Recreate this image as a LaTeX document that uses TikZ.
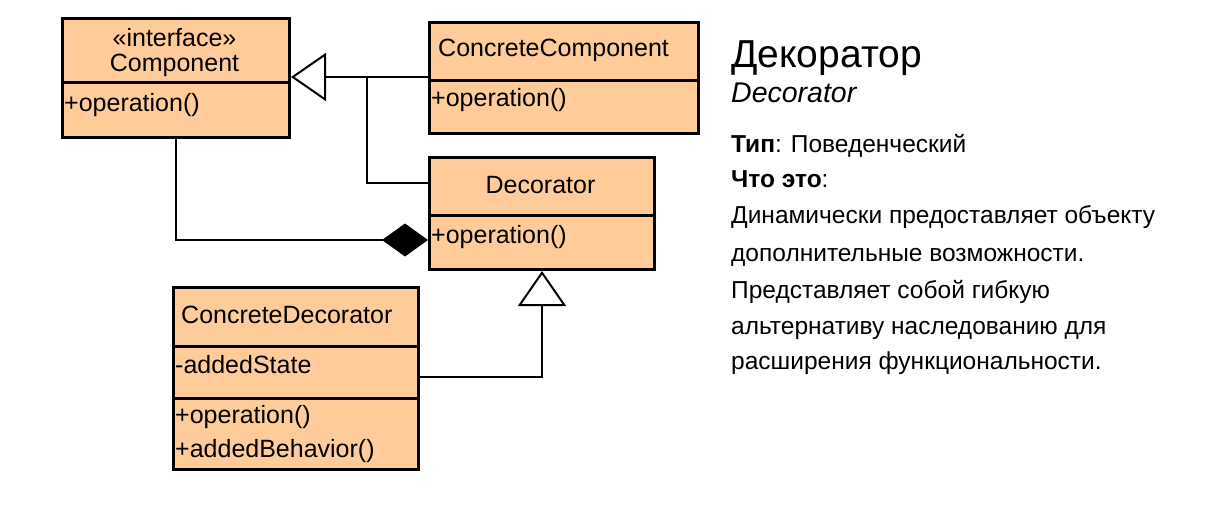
\documentclass[tikz,border=0pt]{standalone}
\usepackage{fontspec}
\setmainfont{Liberation Sans}
\usetikzlibrary{arrows.meta,calc}
\definecolor{peach}{RGB}{255,204,153}
\begin{document}
\begin{tikzpicture}[x=1pt,y=-1pt,
  box/.style={draw=black, line width=3pt, fill=peach, rectangle, inner sep=0pt, anchor=north west},
  sep/.style={line width=3pt},
  txt/.style={inner sep=0pt, font=\fontsize{25}{28}\selectfont},
  conn/.style={line width=2pt},
  gen/.style={conn, -{Triangle[fill=white, length=35pt, width=48pt]}},
  compo/.style={conn, -{Diamond[fill=black, length=46pt, width=33pt]}},
  body/.style={inner sep=0pt, anchor=base west, font=\fontsize{24.5}{28}\selectfont}
]
\useasboundingbox (0,0) rectangle (1207,505);
% Component
\node[box, minimum width=227pt, minimum height=119pt] (comp) at (61,17) {};
\draw[sep] (comp.west |- 0,83) -- (comp.east |- 0,83);
\node[txt] (compSt) at (174.5,38) {«interface»};
\node[txt] (compN) at (174.5,65) {Component};
\node[txt, anchor=west] (compOp) at (64,105) {+operation()};
% ConcreteComponent
\node[box, minimum width=269pt, minimum height=111pt] (cc) at (428,21) {};
\draw[sep] (cc.west |- 0,81) -- (cc.east |- 0,81);
\node[txt, anchor=west] (ccN) at (438,50) {ConcreteComponent};
\node[txt, anchor=west] (ccOp) at (431,100) {+operation()};
% Decorator
\node[box, minimum width=225pt, minimum height=112pt] (dec) at (428,156) {};
\draw[sep] (dec.west |- 0,216) -- (dec.east |- 0,216);
\node[txt] (decN) at (540.5,185) {Decorator};
\node[txt, anchor=west] (decOp) at (431,237) {+operation()};
% ConcreteDecorator
\node[box, minimum width=245pt, minimum height=182pt] (cd) at (172,286) {};
\draw[sep] (cd.west |- 0,346) -- (cd.east |- 0,346);
\draw[sep] (cd.west |- 0,398) -- (cd.east |- 0,398);
\node[txt, anchor=west] (cdN) at (181,315) {ConcreteDecorator};
\node[txt, anchor=west] (cdAt) at (175,365) {-addedState};
\node[txt, anchor=west] (cdOp1) at (175,417) {+operation()};
\node[txt, anchor=west] (cdOp2) at (175,451) {+addedBehavior()};
% connection points
\coordinate (compIn) at (comp.east |- 0,77);
\coordinate (ccOut) at (cc.west |- 0,77);
\coordinate (joint) at (367,77);
\coordinate (decOut) at (dec.west |- 0,183);
\coordinate (decAgg) at (dec.west |- 0,240);
\coordinate (cdOut) at (cd.east |- 0,377);
% connectors
\draw[gen] (ccOut) -- (compIn);
\draw[conn] (decOut) -| (joint);
\draw[compo] (comp.south) |- (decAgg);
\draw[gen] (cdOut) -| (dec.south);
% description
\node[inner sep=0pt, anchor=base west, font=\fontsize{39}{44}\selectfont] (title) at (731,68) {Декоратор};
\node[inner sep=0pt, anchor=base west, font=\fontsize{28.5}{32}\itshape] (sub) at (731,103) {Decorator};
\node[body] (t1) at (731,153) {\textbf{Тип}: Поведенческий};
\node[body] (t2) at (731,188) {\textbf{Что это}:};
\node[body] (t3) at (731,224) {Динамически предоставляет объекту};
\node[body] (t4) at (731,261) {дополнительные возможности.};
\node[body] (t5) at (731,298) {Представляет собой гибкую};
\node[body] (t6) at (731,334) {альтернативу наследованию для};
\node[body] (t7) at (731,369) {расширения функциональности.};
\end{tikzpicture}
\end{document}
